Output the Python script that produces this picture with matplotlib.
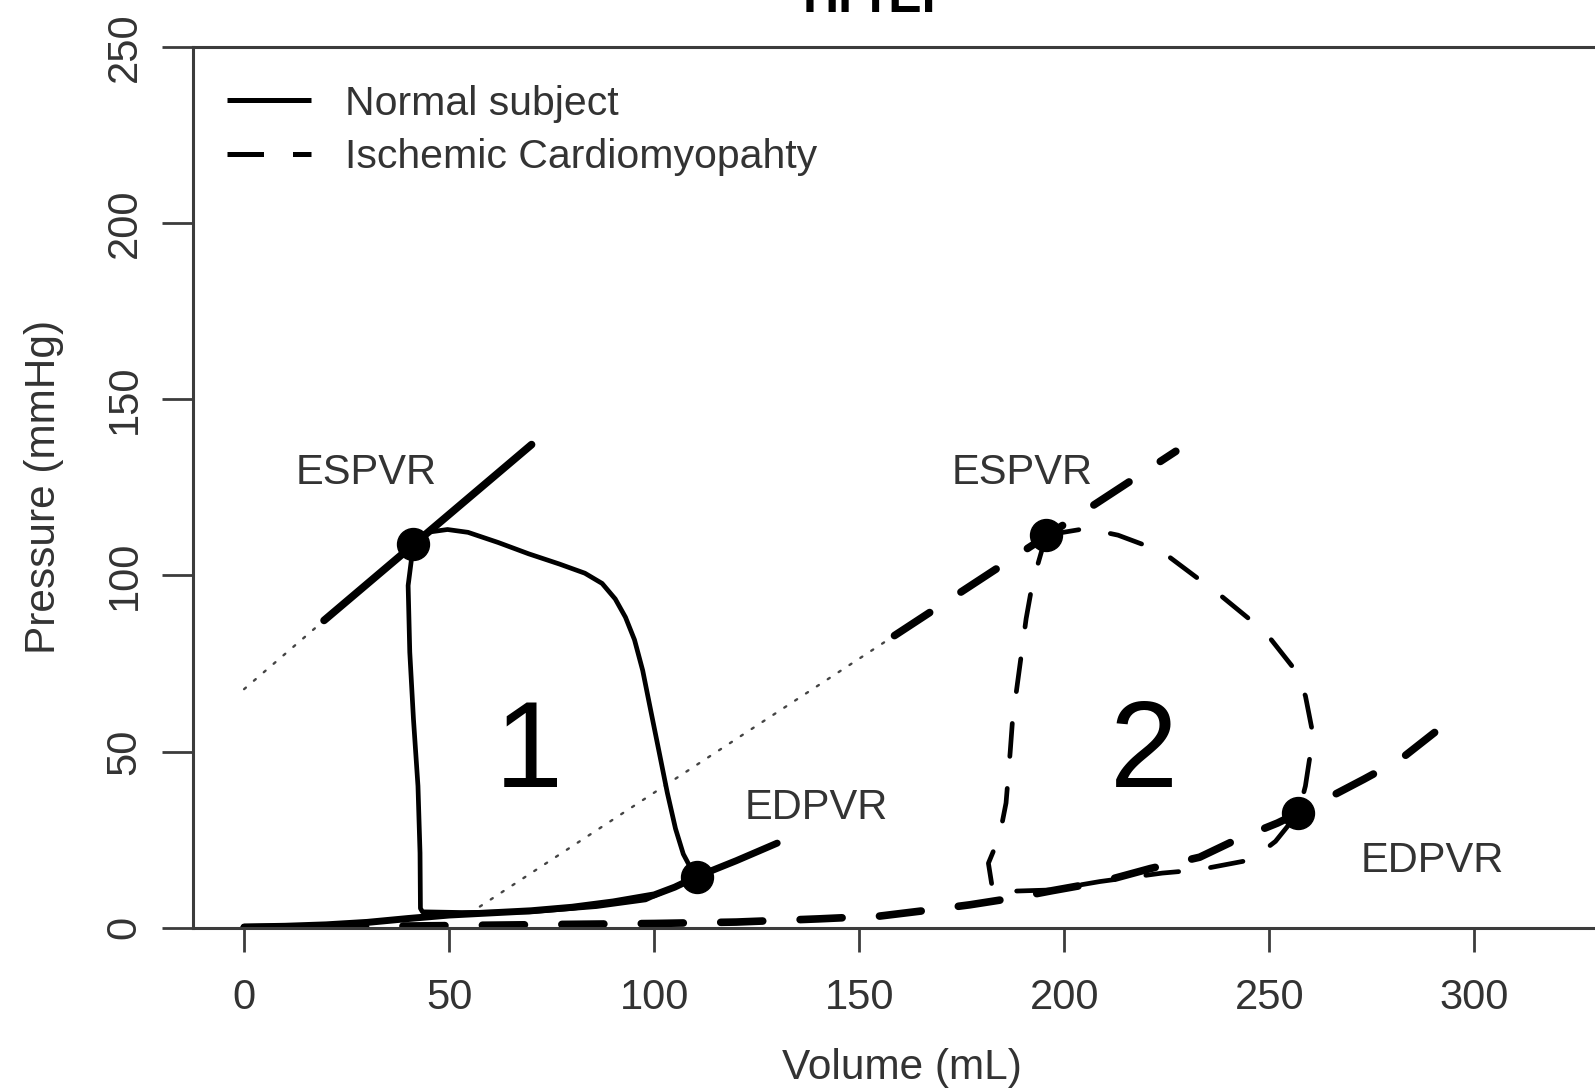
import matplotlib
matplotlib.use("Agg")
import matplotlib.pyplot as plt
from matplotlib.lines import Line2D

plt.rcParams['font.family'] = ['Liberation Sans', 'DejaVu Sans']

# ---- Normal subject: pressure-volume loop ----
normal_loop_v = [41.3, 44.6, 49.6, 54.6, 62.0, 69.4, 76.9, 83.1, 87.3, 90.5, 93.0, 95.2,
                 97.2, 99.2, 101.2, 103.2, 105.2, 107.1, 109.1, 110.4,
                 97.9, 85.9, 69.5, 53.2, 43.5, 43.0, 42.9, 42.4,
                 41.3, 40.4, 40.0, 41.3]
normal_loop_p = [109.0, 112.2, 113.0, 112.2, 109.3, 106.1, 103.2, 100.6, 97.7, 93.3, 88.1, 81.7,
                 73.0, 61.4, 49.9, 38.3, 28.1, 20.9, 16.5, 14.5,
                 7.9, 6.0, 4.5, 4.3, 4.5, 5.5, 21.2, 40.2,
                 59.2, 78.2, 97.1, 109.0]

# Normal ESPVR (solid segment) and its dotted extrapolation to V = 0
normal_espvr_v = [19.5, 70.1]
normal_espvr_p = [87.2, 137.1]
normal_espvr_ext_v = [0.0, 19.5]
normal_espvr_ext_p = [67.7, 87.2]

# Normal EDPVR
normal_edpvr_v = [0, 10, 20, 30, 40, 50, 60, 70, 80, 90, 100, 105, 110.4, 120, 130]
normal_edpvr_p = [0.2, 0.4, 0.8, 1.5, 2.6, 3.6, 4.2, 4.8, 5.8, 7.3, 9.3, 11.5, 14.5, 19.0, 24.0]

# End-systolic / end-diastolic points
normal_es = (41.3, 109.0)
normal_ed = (110.4, 14.5)

# ---- Ischemic cardiomyopathy ----
isch_loop_v = [195.6, 205.4, 213.1, 223.9, 238.1, 249.0, 255.5, 258.8, 260.4, 259.8, 258.8,
               257.1, 251.5, 245.7, 232.6, 223.9, 208.7, 196.7, 182.6, 181.5, 184.2, 185.8,
               186.8, 187.4, 188.5, 189.6, 190.7, 192.3, 195.6]
isch_loop_p = [111.4, 113.3, 111.4, 106.7, 94.3, 83.9, 74.3, 65.8, 56.3, 47.8, 40.2,
               32.6, 24.5, 19.3, 16.4, 15.5, 13.1, 10.7, 10.2, 18.3, 25.9, 35.4,
               49.7, 59.2, 68.6, 78.1, 87.7, 98.1, 111.4]

isch_espvr_v = [158.6, 227.2]
isch_espvr_p = [82.9, 135.2]
isch_espvr_ext_v = [57.5, 158.6]
isch_espvr_ext_p = [6.0, 82.9]

isch_edpvr_v = [0, 50, 100, 120, 140, 155, 167, 177, 188, 197, 209, 221, 233, 242, 252,
                257.1, 262, 273, 282, 290.3]
isch_edpvr_p = [0.0, 0.6, 1.2, 1.6, 2.5, 3.3, 5.0, 6.5, 8.5, 10.5, 13.0, 16.8, 20.0, 25.0, 29.7,
                32.6, 35.4, 42.1, 47.8, 55.4]

isch_es = (195.6, 111.4)
isch_ed = (257.1, 32.6)

# ---- Axis configuration ----
x_ticks = [0, 50, 100, 150, 200, 250, 300]
y_ticks = [0, 50, 100, 150, 200, 250]
legend_labels = ["Normal subject", "Ischemic Cardiomyopahty"]

TEXT = "#333333"
AXIS = "#3c3c3c"

fig = plt.figure(figsize=(15.95, 10.9), dpi=100)
ax = fig.add_axes([0.121, 0.1489, 0.8895, 0.8082])
ax.set_xlim(-12.46, 333.5)
ax.set_ylim(0, 250)

thick_dash = (0, (5.5, 4.9))
loop_dash = (0, (7.0, 6.8))
dotted = (0, (1.0, 4.5))

# Dotted extrapolations
ax.plot(normal_espvr_ext_v, normal_espvr_ext_p, color="#444444", lw=1.7, ls=dotted,
        dash_capstyle="round")
ax.plot(isch_espvr_ext_v, isch_espvr_ext_p, color="#444444", lw=1.7, ls=dotted,
        dash_capstyle="round")

# Ischemic curves
ax.plot(isch_edpvr_v, isch_edpvr_p, color="black", lw=5.5, ls=thick_dash,
        dash_capstyle="round", dash_joinstyle="round")
ax.plot(isch_espvr_v, isch_espvr_p, color="black", lw=5.5, ls=thick_dash,
        dash_capstyle="round")
ax.plot(isch_loop_v, isch_loop_p, color="black", lw=3.4, ls=loop_dash,
        dash_capstyle="round", dash_joinstyle="round")

# Normal curves
ax.plot(normal_edpvr_v, normal_edpvr_p, color="black", lw=5.0,
        solid_capstyle="round", solid_joinstyle="round")
ax.plot(normal_espvr_v, normal_espvr_p, color="black", lw=5.5, solid_capstyle="round")
ax.plot(normal_loop_v, normal_loop_p, color="black", lw=3.4,
        solid_capstyle="round", solid_joinstyle="round")

# ES / ED points
pts_v = [normal_es[0], normal_ed[0], isch_es[0], isch_ed[0]]
pts_p = [normal_es[1], normal_ed[1], isch_es[1], isch_ed[1]]
ax.plot(pts_v, pts_p, ls="none", marker="o", ms=23, color="black")

# Annotations
ann = dict(color=TEXT, fontsize=30, ha="center", va="center")
ax.text(29.8, 129, "ESPVR", **ann)
ax.text(189.7, 129, "ESPVR", **ann)
ax.text(139.6, 34, "EDPVR", **ann)
ax.text(289.7, 19, "EDPVR", **ann)
big = dict(color="black", fontsize=88, ha="center", va="center")
ax.text(69.4, 49, "1", **big)
ax.text(219.5, 49, "2", **big)

# Spines and ticks
for side in ["left", "bottom", "top"]:
    ax.spines[side].set_color(AXIS)
    ax.spines[side].set_linewidth(2.2)
ax.spines["right"].set_visible(False)

ax.set_xticks(x_ticks)
ax.set_yticks(y_ticks)
ax.tick_params(axis="x", direction="out", length=17, width=2.0, color=AXIS,
               labelsize=30, labelcolor=TEXT, pad=19.5)
ax.tick_params(axis="y", direction="out", length=22, width=2.0, color=AXIS,
               labelsize=30, labelcolor=TEXT, pad=13, labelrotation=90)
for lab in ax.get_yticklabels():
    lab.set_verticalalignment("center")

ax.set_xlabel("Volume (mL)", fontsize=30.5, color=TEXT, labelpad=21)
ax.set_ylabel("Pressure (mmHg)", fontsize=30.5, color=TEXT, labelpad=29)

# Legend
handles = [
    Line2D([], [], color="black", lw=3.6, solid_capstyle="butt"),
    Line2D([], [], color="black", lw=3.6, ls=(0, (7.3, 5.8)), dash_capstyle="butt"),
]
ax.legend(handles, legend_labels, loc="upper left", bbox_to_anchor=(227 / 1595, 1 - 84.7 / 1090),
          bbox_transform=fig.transFigure, frameon=False, fontsize=29.5, labelcolor=TEXT,
          handlelength=2.05, handletextpad=0.83, labelspacing=0.37, borderpad=0,
          borderaxespad=0)

# Title, mostly above the top edge of the canvas
fig.text(878 / 1595, 1 - 12 / 1090, "HFrEF", fontsize=36, fontweight="bold",
         color="black", ha="center", va="baseline")

fig.savefig("out.png", dpi=100, facecolor="white")
